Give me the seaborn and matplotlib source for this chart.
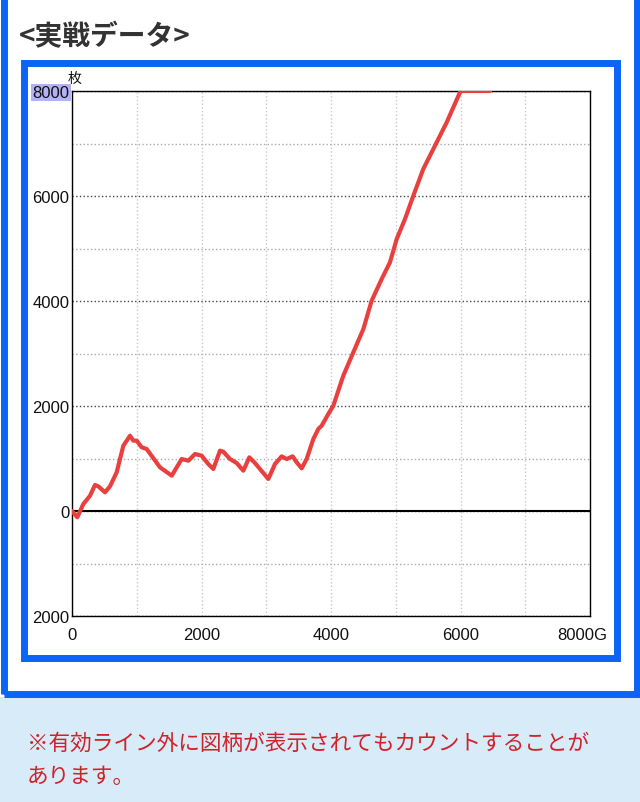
import pandas as pd
import matplotlib.pyplot as plt
from matplotlib.patches import Rectangle
from matplotlib.ticker import MultipleLocator
from matplotlib.transforms import ScaledTranslation
import seaborn as sns

# 実戦データ (G数 / 差枚)
games = [0, 82, 175, 278, 355, 406, 510, 587, 690, 793, 896, 947, 999, 1076, 1153,
         1359, 1540, 1694, 1797, 1900, 2003, 2105, 2182, 2286, 2337, 2440, 2543, 2646,
         2738, 2826, 2903, 3032, 3135, 3238, 3315, 3408, 3470, 3547, 3624, 3727, 3804,
         3856, 3959, 4036, 4190, 4345, 4500, 4628, 4783, 4911, 5015, 5143, 5272, 5425,
         5606, 5787, 5992, 6010, 6456]
coins = [0, -120, 133, 290, 495, 470, 356, 470, 737, 1244, 1434, 1340, 1340, 1213, 1181,
         832, 673, 990, 958, 1086, 1053, 895, 800, 1149, 1130, 990, 914, 768,
         1022, 914, 800, 610, 895, 1041, 990, 1041, 927, 813, 990, 1371, 1562,
         1625, 1848, 2006, 2577, 3023, 3467, 4006, 4419, 4737, 5181, 5562, 6006, 6514,
         6958, 7403, 7975, 8000, 8000]

y_ticks = [-2000, 0, 2000, 4000, 6000, 8000]
y_labels = ['2000', '0', '2000', '4000', '6000', '8000']
x_ticks = [0, 2000, 4000, 6000, 8000]
x_labels = ['0', '2000', '4000', '6000', '8000G']

title = '<実戦データ>'
note_lines = ['※有効ライン外に図柄が表示されてもカウントすることが', 'あります。']

df = pd.DataFrame({'G': games, '枚': coins})

sns.set_style('white')
plt.rcParams['font.family'] = ['Liberation Sans', 'Noto Sans CJK JP']

W, H = 640, 803
fig = plt.figure(figsize=(W / 100, H / 100), dpi=100)


def fx(px):
    return px / W


def fy(py):
    return 1 - py / H


blue = '#0a64f5'

# 注意書きの背景
fig.add_artist(Rectangle((0, 0), 1, fy(698), transform=fig.transFigure,
                         facecolor='#d8ebf8', edgecolor='none', zorder=0))
# 外枠 (上は画面外)
fig.add_artist(Rectangle((fx(3.5), fy(695)), fx(636.5) - fx(3.5), fy(-50) - fy(695),
                         transform=fig.transFigure, facecolor='none',
                         edgecolor=blue, lw=5, zorder=1))
# グラフ枠
fig.add_artist(Rectangle((fx(23.5), fy(658.5)), fx(616.5) - fx(23.5), fy(64) - fy(658.5),
                         transform=fig.transFigure, facecolor='none',
                         edgecolor=blue, lw=5, zorder=1))

ax = fig.add_axes([fx(72), fy(617), fx(590) - fx(72), fy(92) - fy(617)])
sns.lineplot(data=df, x='G', y='枚', ax=ax, color='#e8403f', lw=3,
             solid_capstyle='round', zorder=5)

ax.set_xlim(0, 8000)
ax.set_ylim(-2000, 8000)
ax.set_xlabel('')
ax.set_ylabel('')

ax.set_xticks(x_ticks, x_labels)
ax.set_yticks(y_ticks, y_labels)
ax.xaxis.set_minor_locator(MultipleLocator(1000))
ax.yaxis.set_minor_locator(MultipleLocator(1000))
ax.grid(which='both', axis='x', color='#c8c8c8', ls=':', lw=1)
ax.grid(which='major', axis='y', color='#444444', ls=':', lw=1)
ax.grid(which='minor', axis='y', color='#aaaaaa', ls=':', lw=1)
ax.axhline(0, color='black', lw=1.5, zorder=3)
ax.tick_params(which='both', length=0, labelsize=12, colors='#111111')
ax.tick_params(axis='y', pad=2)
ax.tick_params(axis='x', pad=8)
for s in ax.spines.values():
    s.set_color('black')
    s.set_linewidth(1)

# 8000 のハイライト
ax.get_yticklabels()[-1].set_bbox(dict(facecolor='#b3b3f3', edgecolor='none', pad=1))
lab = ax.get_xticklabels()[-1]
lab.set_transform(lab.get_transform() + ScaledTranslation(-0.08, 0, fig.dpi_scale_trans))

fig.text(fx(75), fy(79), '枚', ha='center', va='center', fontsize=10,
         family='Noto Sans CJK JP', color='#111111')
fig.text(fx(19), fy(37), title, ha='left', va='center', fontsize=20,
         fontweight='bold', family='Noto Sans CJK JP', color='#333333')
fig.text(fx(27), fy(744), note_lines[0], ha='left', va='center', fontsize=15.6,
         family='Noto Sans CJK JP', color='#d0222a')
fig.text(fx(27), fy(777), note_lines[1], ha='left', va='center', fontsize=15.6,
         family='Noto Sans CJK JP', color='#d0222a')

fig.savefig('out.png', dpi=100)
